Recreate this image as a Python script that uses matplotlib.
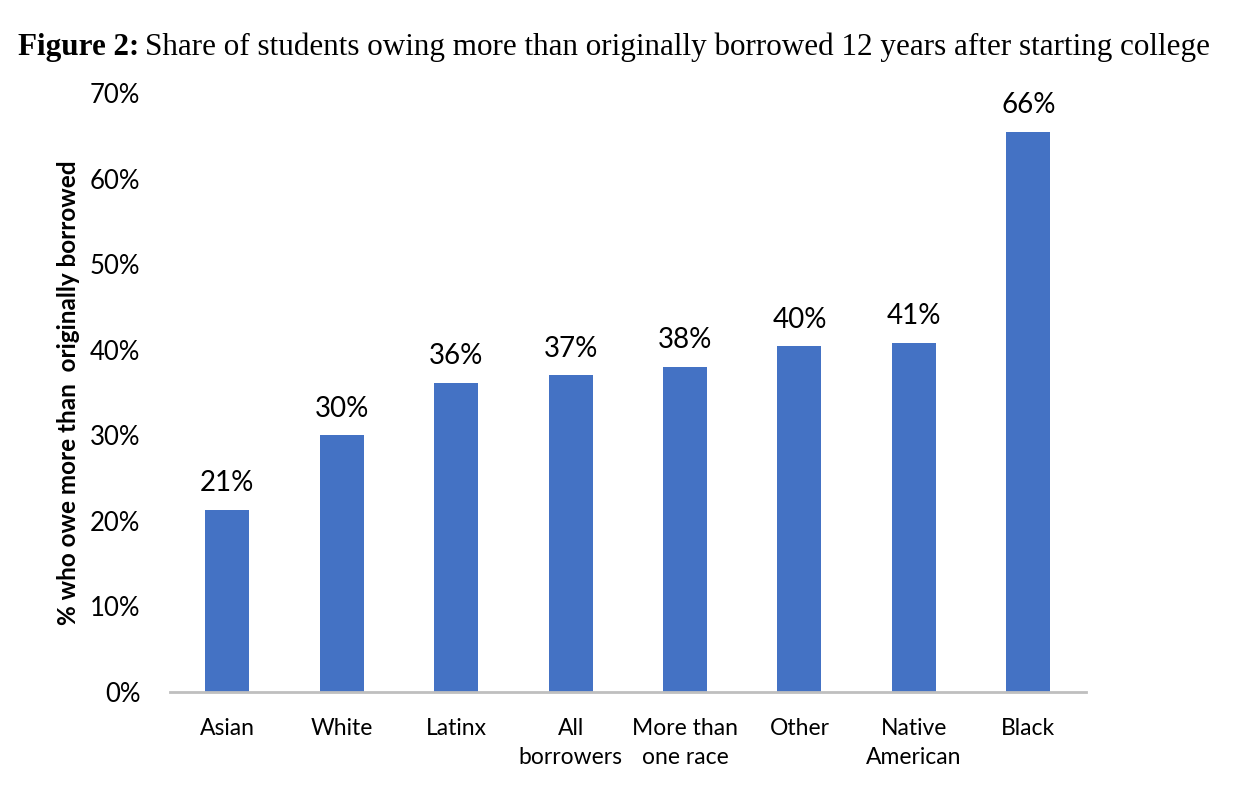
import matplotlib
matplotlib.use("Agg")
import matplotlib.pyplot as plt
from matplotlib.ticker import FuncFormatter

categories = ["Asian", "White", "Latinx", "All\nborrowers", "More than\none race",
              "Other", "Native\nAmerican", "Black"]
values = [21.3, 30.0, 36.1, 37.0, 38.0, 40.4, 40.8, 65.5]
labels = ["21%", "30%", "36%", "37%", "38%", "40%", "41%", "66%"]

FONT = ["Lato", "DejaVu Sans"]
fig = plt.figure(figsize=(12.42, 8.06), dpi=100)
ax = fig.add_axes([0.137, 0.1414, 0.737, 0.7432])

x = range(len(categories))
bars = ax.bar(x, values, width=0.385, color="#4472C4", zorder=2)
for xi, v, lab in zip(x, values, labels):
    ax.text(xi, v + 1.6, lab, ha="center", va="bottom", fontsize=20, family=FONT)

ax.set_xlim(-0.5, len(categories) - 0.5)
ax.set_ylim(0, 70)
ax.set_yticks(range(0, 71, 10))
ax.yaxis.set_major_formatter(FuncFormatter(lambda v, p: f"{int(v)}%"))
ax.set_xticks(list(x))
ax.set_xticklabels(categories, fontsize=16.5, family=FONT, linespacing=1.45)
for t in ax.get_yticklabels():
    t.set_fontsize(18.5); t.set_family(FONT)
ax.tick_params(axis="both", length=0)
ax.tick_params(axis="y", pad=21.5)
ax.tick_params(axis="x", pad=19)
for s in ["top", "right", "left"]:
    ax.spines[s].set_visible(False)
ax.spines["bottom"].set_color("#BFBFBF")
ax.spines["bottom"].set_linewidth(2)
ax.set_ylabel("% who owe more than  originally borrowed", fontsize=17.5,
              fontweight="bold", family=FONT)
ax.yaxis.set_label_coords(-0.098, 0.5)

# title: bold + regular parts
fig.canvas.draw()
r = fig.canvas.get_renderer()
t1 = fig.text(18 / 1242, 1 - 55 / 806, "Figure 2:", fontsize=22.4, fontweight="bold",
              family="Liberation Serif", ha="left", va="baseline")
bb = t1.get_window_extent(renderer=r)
fig.text((bb.x1 + 6) / 1242, 1 - 55 / 806,
         "Share of students owing more than originally borrowed 12 years after starting college",
         fontsize=22.4, family="Liberation Serif", ha="left", va="baseline")

fig.savefig("out.png", dpi=100)
